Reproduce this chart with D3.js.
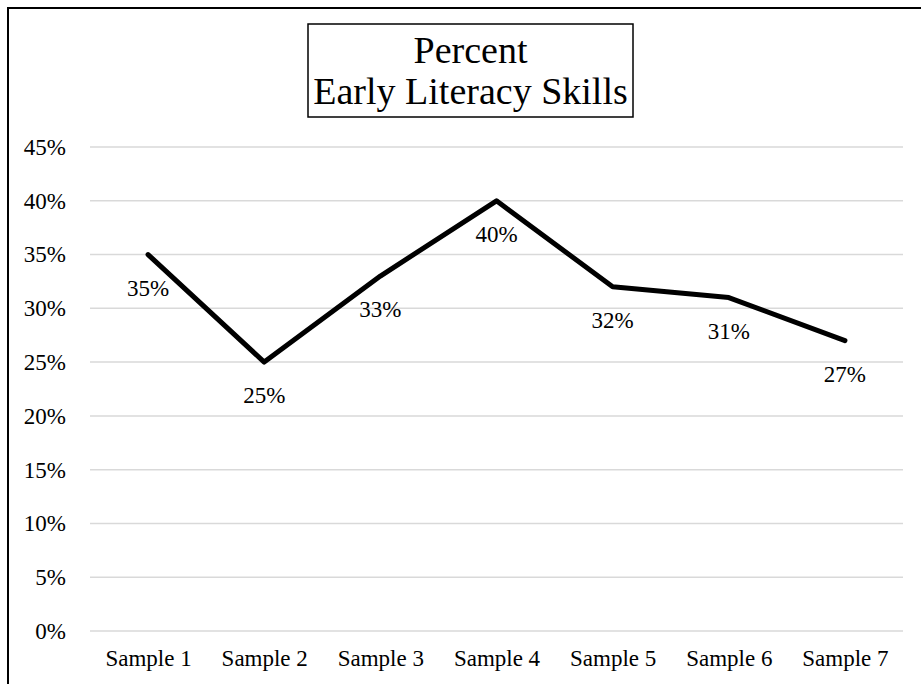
<!DOCTYPE html>
<html>
<head>
<meta charset="utf-8">
<script src="https://cdn.jsdelivr.net/npm/d3@7"></script>
<style>
  html, body { margin: 0; padding: 0; background: #fff; }
  svg { display: block; }
</style>
</head>
<body>
<svg id="chart" width="921" height="684"></svg>
<script>
const categories = ["Sample 1", "Sample 2", "Sample 3", "Sample 4", "Sample 5", "Sample 6", "Sample 7"];
const values = [35, 25, 33, 40, 32, 31, 27];
const yTicks = [0, 5, 10, 15, 20, 25, 30, 35, 40, 45];
const titleLines = ["Percent", "Early Literacy Skills"];

const FONT = "'Liberation Serif', 'Times New Roman', Times, serif";
const svg = d3.select("#chart");
const W = 921, H = 684;

// outer frame (extends past right and bottom edges)
svg.append("rect")
  .attr("x", 8).attr("y", 8)
  .attr("width", W + 20).attr("height", H + 20)
  .attr("fill", "none").attr("stroke", "#000").attr("stroke-width", 2);

const plot = { left: 90, right: 903, top: 147, bottom: 631 };

const x = d3.scalePoint().domain(categories).range([plot.left, plot.right]).padding(0.5);
const y = d3.scaleLinear().domain([0, 45]).range([plot.bottom, plot.top]);

// gridlines
svg.append("g").selectAll("line").data(yTicks).join("line")
  .attr("x1", plot.left).attr("x2", plot.right)
  .attr("y1", d => y(d)).attr("y2", d => y(d))
  .attr("stroke", "#d9d9d9").attr("stroke-width", 1.5);

// y axis labels
const yAxis = d3.axisLeft(y).tickValues(yTicks).tickFormat(d => d + "%").tickSize(0).tickPadding(0);
const yg = svg.append("g").attr("transform", "translate(66,0)").call(yAxis);
yg.select(".domain").remove();
yg.selectAll("text").style("font-size", "23px").style("font-family", FONT).attr("fill", "#000");

// x axis labels
const xAxis = d3.axisBottom(x).tickSize(0).tickPadding(0);
const xg = svg.append("g").attr("transform", `translate(0,${plot.bottom})`).call(xAxis);
xg.select(".domain").remove();
xg.selectAll("text").style("font-size", "23px").style("font-family", FONT).attr("fill", "#000")
  .attr("dy", null).attr("y", 35);

// line
const line = d3.line().x((d, i) => x(categories[i])).y(d => y(d));
svg.append("path").datum(values)
  .attr("d", line)
  .attr("fill", "none").attr("stroke", "#000").attr("stroke-width", 5)
  .attr("stroke-linejoin", "round").attr("stroke-linecap", "round");

// data labels
svg.append("g").selectAll("text").data(values).join("text")
  .attr("x", (d, i) => x(categories[i]))
  .attr("y", d => y(d) + 41)
  .attr("text-anchor", "middle")
  .style("font-size", "23px").style("font-family", FONT).attr("fill", "#000")
  .text(d => d + "%");

// title box
const tb = { x: 308, y: 24, w: 325, h: 93 };
svg.append("rect").attr("x", tb.x).attr("y", tb.y).attr("width", tb.w).attr("height", tb.h)
  .attr("fill", "#fff").attr("stroke", "#000").attr("stroke-width", 1.5);
svg.append("g").selectAll("text").data(titleLines).join("text")
  .attr("x", tb.x + tb.w / 2)
  .attr("y", (d, i) => 63 + i * 41)
  .attr("text-anchor", "middle")
  .style("font-size", "38px").style("font-family", FONT).attr("fill", "#000")
  .text(d => d);
</script>
</body>
</html>
